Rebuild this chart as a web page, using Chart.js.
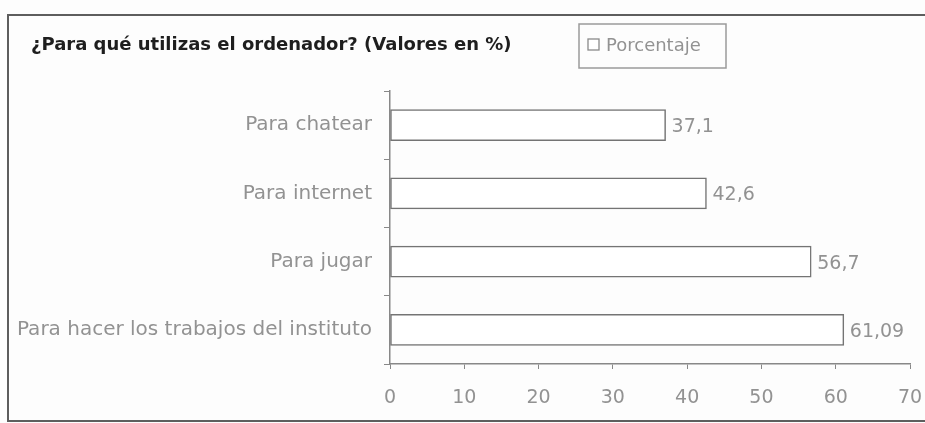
<!DOCTYPE html>
<html>
<head>
<meta charset="utf-8">
<script src="https://cdn.jsdelivr.net/npm/chart.js@4.4.1/dist/chart.umd.min.js"></script>
<style>
  body { margin: 0; background: #fdfdfd; }
  .chart-box { position: relative; width: 925px; height: 423px; }
</style>
</head>
<body>
<div class="chart-box"><canvas id="usosChart"></canvas></div>
<script>
// Datos
const categorias = ['Para chatear', 'Para internet', 'Para jugar', 'Para hacer los trabajos del instituto'];
const porcentajes = [37.1, 42.6, 56.7, 61.09];
const serieNombre = 'Porcentaje';
const tituloTexto = '¿Para qué utilizas el ordenador? (Valores en %)';
const ticksX = [0, 10, 20, 30, 40, 50, 60, 70];

const gris = '#929292';
const fuente = '"DejaVu Sans", sans-serif';

function formatoComa(v) {
    return v.toString().replace('.', ',');
}

// marco exterior del recorte
const marcoPlugin = {
    id: 'marco',
    beforeDraw(chart) {
        const ctx = chart.ctx;
        ctx.save();
        ctx.fillStyle = '#fdfdfd';
        ctx.fillRect(0, 0, chart.width, chart.height);
        ctx.strokeStyle = '#5e5e5e';
        ctx.lineWidth = 2;
        ctx.strokeRect(8, 15, chart.width + 20, 406);
        ctx.restore();
    }
};

// titulo y leyenda en la misma fila
const cabeceraPlugin = {
    id: 'cabecera',
    afterDraw(chart) {
        const ctx = chart.ctx;
        ctx.save();
        ctx.fillStyle = '#1e1e1e';
        ctx.font = 'bold 18px ' + fuente;
        ctx.textBaseline = 'alphabetic';
        ctx.textAlign = 'left';
        ctx.fillText(tituloTexto, 31, 50);

        ctx.strokeStyle = '#9a9a9a';
        ctx.lineWidth = 1.5;
        ctx.strokeRect(579, 24, 147, 44);
        ctx.fillStyle = '#ffffff';
        ctx.fillRect(588, 39, 11, 11);
        ctx.strokeStyle = '#8a8a8a';
        ctx.lineWidth = 1.3;
        ctx.strokeRect(588, 39, 11, 11);
        ctx.fillStyle = gris;
        ctx.font = '18px ' + fuente;
        ctx.textBaseline = 'middle';
        ctx.fillText(chart.data.datasets[0].label, 606, 46);
        ctx.restore();
    }
};

// valores al final de cada barra
const valoresPlugin = {
    id: 'valores',
    afterDatasetsDraw(chart) {
        const ctx = chart.ctx;
        const meta = chart.getDatasetMeta(0);
        ctx.save();
        ctx.fillStyle = gris;
        ctx.font = '19px ' + fuente;
        ctx.textAlign = 'left';
        ctx.textBaseline = 'middle';
        meta.data.forEach((bar, i) => {
            ctx.fillText(formatoComa(chart.data.datasets[0].data[i]), bar.x + 6, bar.y + 2);
        });
        ctx.restore();
    }
};

new Chart(document.getElementById('usosChart'), {
    type: 'bar',
    data: {
        labels: categorias,
        datasets: [{
            label: serieNombre,
            data: porcentajes,
            backgroundColor: '#ffffff',
            borderColor: '#747474',
            borderWidth: 1.5,
            borderSkipped: false,
            barThickness: 31
        }]
    },
    options: {
        indexAxis: 'y',
        responsive: true,
        maintainAspectRatio: false,
        animation: false,
        layout: { padding: { top: 91, right: 15, bottom: 0, left: 0 } },
        scales: {
            x: {
                min: 0,
                max: 70,
                afterBuildTicks(scale) {
                    scale.ticks = ticksX.map(v => ({ value: v }));
                },
                afterFit(scale) {
                    scale.height = 59;
                    scale.paddingLeft = 0;
                    scale.paddingRight = 0;
                },
                grid: { drawOnChartArea: false, drawTicks: true, tickLength: 5, color: '#888888' },
                border: { color: '#888888', width: 1.5 },
                ticks: {
                    color: gris,
                    font: { family: fuente, size: 19 },
                    padding: 18
                }
            },
            y: {
                afterFit(scale) {
                    scale.width = 390;
                },
                grid: { drawOnChartArea: false, drawTicks: true, tickLength: 6, color: '#888888', offset: true },
                border: { color: '#888888', width: 1.5 },
                ticks: {
                    color: gris,
                    font: { family: fuente, size: 20 },
                    padding: 12,
                    autoSkip: false
                }
            }
        },
        plugins: {
            legend: { display: false },
            title: { display: false },
            tooltip: { enabled: false }
        }
    },
    plugins: [marcoPlugin, cabeceraPlugin, valoresPlugin]
});
</script>
</body>
</html>
